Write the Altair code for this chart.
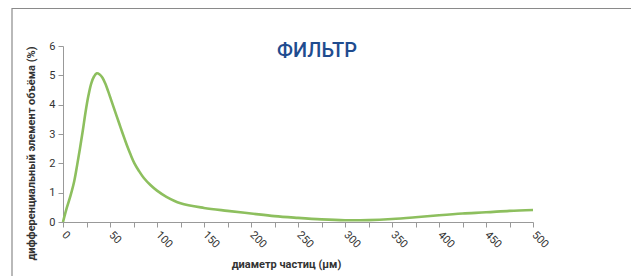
import altair as alt
import pandas as pd

diameter = [0, 4, 8, 12, 15, 18, 21, 24, 27, 30, 33, 36, 39, 42, 45, 48, 51, 54, 57, 60,
            63, 66, 69, 72, 76, 81, 86, 93, 100, 110, 125, 150, 175, 200, 225, 250, 275,
            300, 325, 350, 375, 400, 425, 450, 475, 500]
volume = [0, 0.48, 0.9, 1.4, 1.93, 2.5, 3.1, 3.75, 4.3, 4.72, 4.96, 5.07, 5.03, 4.92, 4.72,
          4.46, 4.18, 3.9, 3.62, 3.34, 3.06, 2.79, 2.53, 2.29, 2.0, 1.73, 1.5, 1.26, 1.07,
          0.86, 0.64, 0.48, 0.38, 0.29, 0.2, 0.14, 0.09, 0.06, 0.065, 0.1, 0.16, 0.23,
          0.29, 0.33, 0.38, 0.41]
x_ticks = list(range(0, 525, 25))
y_ticks = [0, 1, 2, 3, 4, 5, 6]
title_text = "ФИЛЬТР"
x_title = "диаметр частиц (μм)"
y_title = "дифференциальный элемент объёма (%)"

df = pd.DataFrame({"d": diameter, "v": volume})

W, H = 470, 176

line = alt.Chart(df).mark_line(
    color="#8dbf5e", strokeWidth=2.6, interpolate="catmull-rom"
).encode(
    x=alt.X("d:Q", scale=alt.Scale(domain=[0, 500], nice=False),
            axis=alt.Axis(values=x_ticks, labelExpr="datum.value % 50 == 0 ? datum.label : ''",
                          labelAngle=45, labelAlign="left", labelBaseline="middle",
                          labelPadding=6, grid=False, tickSize=5,
                          title=x_title, titleX=223, titleY=42, titleBaseline="middle",
                          titleFontWeight="bold", titleFontSize=11, titleColor="#333")),
    y=alt.Y("v:Q", scale=alt.Scale(domain=[0, 6], nice=False),
            axis=alt.Axis(values=y_ticks, grid=False, tickSize=5, labelPadding=3,
                          title=y_title, titleX=-27, titleY=107, titleAngle=-90,
                          titleFontWeight="bold", titleFontSize=11, titleColor="#333")),
)

title = alt.Chart(pd.DataFrame({"t": [title_text]})).mark_text(
    font="Roboto", fontSize=20, fontWeight=500, color="#1f4c8f", align="center",
    baseline="alphabetic"
).encode(text="t:N", x=alt.value(254), y=alt.value(11))

frame_top = alt.Chart(pd.DataFrame({"a": [0]})).mark_rule(color="#8a8a8a", strokeWidth=1.2).encode(
    x=alt.value(-51), x2=alt.value(600), y=alt.value(-37.6), y2=alt.value(-37.6))
frame_left = alt.Chart(pd.DataFrame({"a": [0]})).mark_rule(color="#8a8a8a", strokeWidth=1.2).encode(
    x=alt.value(-51), x2=alt.value(-51), y=alt.value(-38), y2=alt.value(240))

chart = alt.layer(frame_top, frame_left, line, title).properties(
    width=W, height=H,
    padding={"left": 55, "top": 38, "right": 98, "bottom": 54},
    autosize=alt.AutoSizeParams(type="none"),
).configure_view(stroke=None).configure_axis(
    domainColor="#999", tickColor="#999", labelColor="#333", labelFontSize=11,
    labelFont="Roboto", titleFont="Roboto"
)

chart.save("out.html", embed_options={"renderer": "svg", "actions": False})
